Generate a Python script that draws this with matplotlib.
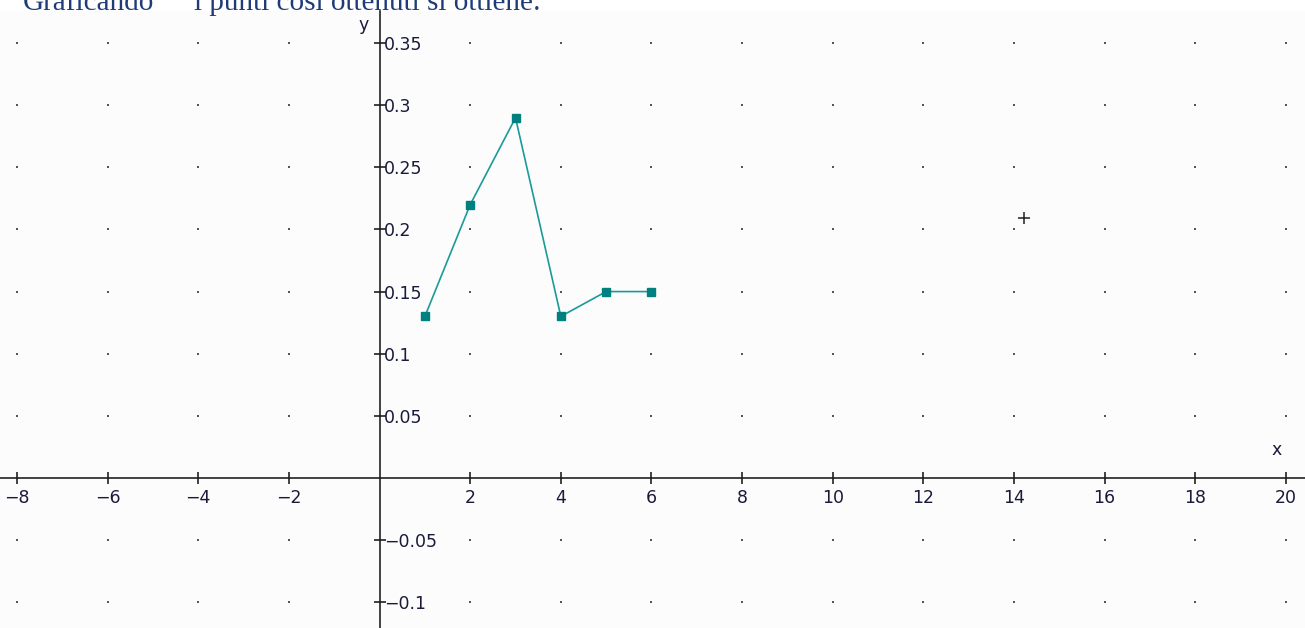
import numpy as np
import matplotlib.pyplot as plt

# dati
x_vals = [1, 2, 3, 4, 5, 6]
y_vals = [0.13, 0.22, 0.29, 0.13, 0.15, 0.15]
cursor = (14.22, 0.209)

x_ticks = [-8, -6, -4, -2, 2, 4, 6, 8, 10, 12, 14, 16, 18, 20]
y_ticks = [-0.1, -0.05, 0.05, 0.1, 0.15, 0.2, 0.25, 0.3, 0.35]
y_labels = ["−0.1", "−0.05", "0.05", "0.1", "0.15", "0.2", "0.25", "0.3", "0.35"]

W, H = 1305, 628
fig = plt.figure(figsize=(W / 100, H / 100), dpi=100)
fig.patch.set_facecolor("white")

top = 11
ax = fig.add_axes([0, 0, 1, (H - top) / H])
ax.set_facecolor("#fcfcfc")
ax.set_xlim(-8.375, 20.42)
ax.set_ylim(-0.121, 0.376)

# puntini della griglia
gx, gy = np.meshgrid(np.arange(-8, 21, 2), np.arange(-0.1, 0.36, 0.05))
ax.scatter(gx.ravel(), gy.ravel(), s=1.2, color="#555555", marker="s", linewidths=0, zorder=1)

# assi
for s in ["top", "right"]:
    ax.spines[s].set_visible(False)
ax.spines["left"].set_position(("data", 0))
ax.spines["bottom"].set_position(("data", 0))
for s in ["left", "bottom"]:
    ax.spines[s].set_color("#222222")
    ax.spines[s].set_linewidth(1.2)

ax.set_xticks(x_ticks)
ax.set_xticklabels(["−" + str(-v) if v < 0 else str(v) for v in x_ticks])
ax.set_yticks(y_ticks)
ax.set_yticklabels(y_labels)
ax.tick_params(axis="both", direction="inout", length=8, width=1.2, color="#222222",
               labelsize=12.5, labelcolor="#1a1a3a")
ax.tick_params(axis="x", pad=4)
ax.tick_params(axis="y", pad=-7)
for lab in ax.get_yticklabels():
    lab.set_horizontalalignment("left")

# serie
ax.plot(x_vals, y_vals, color="#1a9a98", lw=1.2, marker="s", ms=5.5,
        mfc="#008080", mec="#008080", zorder=3)
ax.plot(*cursor, marker="+", color="#222222", ms=8, mew=1.1, zorder=3)

ax.text(19.8, 0.015, "x", fontsize=12.5, color="#1a1a3a", ha="center", va="bottom")
ax.text(-0.35, 0.365, "y", fontsize=12.5, color="#1a1a3a", ha="center", va="center")

# testo sopra il grafico (tagliato dal bordo come nell'originale)
fig.text(23 / W, (H - 10) / H, "Graficando", fontsize=21, family="Liberation Serif",
         color="#1f3c78", va="baseline", ha="left")
fig.text(194 / W, (H - 10) / H, "i punti così ottenuti si ottiene:", fontsize=21,
         family="Liberation Serif", color="#1f3c78", va="baseline", ha="left")

fig.savefig("out.png", dpi=100, facecolor="white")
